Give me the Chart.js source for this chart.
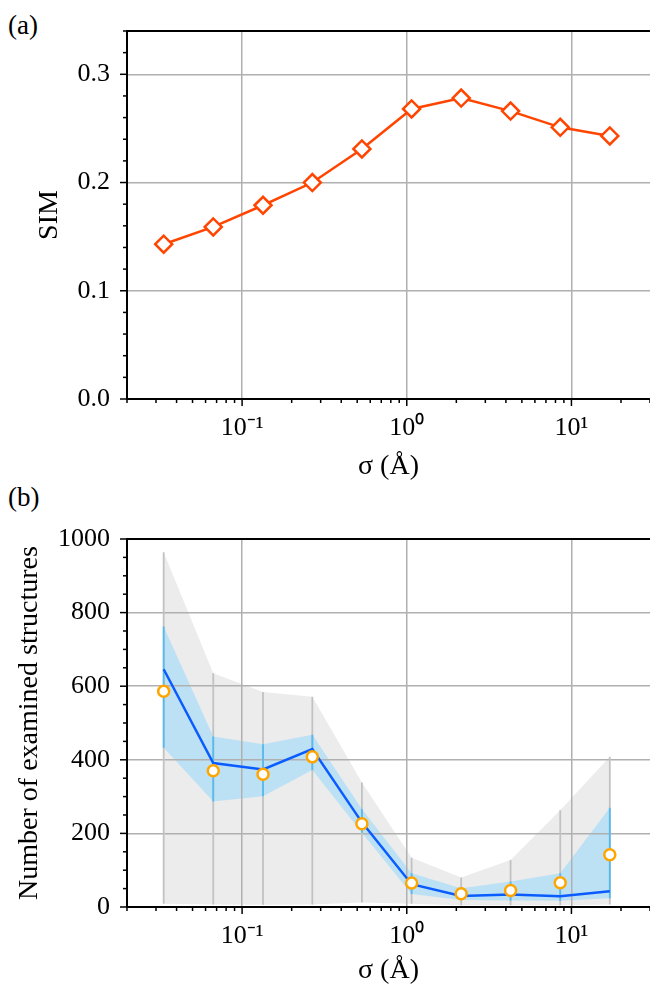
<!DOCTYPE html>
<html>
<head>
<meta charset="utf-8">
<script src="https://cdn.jsdelivr.net/npm/chart.js@4/dist/chart.umd.min.js"></script>
<style>
  body { margin: 0; background: #fff; width: 650px; height: 993px; overflow: hidden; position: relative; }
  .panel { position: absolute; left: 0; }
  .tag { position: absolute; left: 8px; font-family: 'Liberation Serif', serif; font-size: 27px; line-height: 1; color: #000; }
</style>
</head>
<body>
<div class="tag" style="top:12px">(a)</div>
<div class="tag" style="top:484px">(b)</div>
<div class="panel" style="top:0"><canvas id="simChart" width="650" height="495"></canvas></div>
<div class="panel" style="top:495px"><canvas id="structChart" width="650" height="498"></canvas></div>
<script>
// valores de sigma (Å), mismo eje en los dos paneles
const sigma = [0.0334, 0.0668, 0.134, 0.267, 0.534, 1.07, 2.14, 4.27, 8.55, 17.1];

// panel (a)
const sim = [0.143, 0.159, 0.179, 0.200, 0.231, 0.268, 0.278, 0.266, 0.251, 0.243];

// panel (b)
const mediaEstructuras = [586, 370, 361, 408, 226, 65, 36, 45, 66, 142];
const medianaEstructuras = [646, 391, 374, 429, 230, 62, 30, 34, 29, 43];
const cuartilSup = [762, 463, 442, 468, 266, 92, 51, 69, 92, 270];
const cuartilInf = [433, 287, 301, 372, 202, 35, 19, 18, 17, 24];
const maximoEstructuras = [964, 635, 584, 571, 338, 134, 80, 128, 263, 408];
const minimoEstructuras = [9, 7, 6, 7, 12, 9, 5, 5, 5, 7];

// ticks
const xMajor = [0.1, 1, 10];
const xMajorLabels = ['10⁻¹', '10⁰', '10¹'];
const xMinor = [0.02, 0.03, 0.04, 0.05, 0.06, 0.07, 0.08, 0.09,
                0.2, 0.3, 0.4, 0.5, 0.6, 0.7, 0.8, 0.9,
                2, 3, 4, 5, 6, 7, 8, 9, 20, 30];
const simMajor = [0, 0.1, 0.2, 0.3];
const simMajorLabels = ['0.0', '0.1', '0.2', '0.3'];
const structMajor = [0, 200, 400, 600, 800, 1000];
const structMajorLabels = ['0', '200', '400', '600', '800', '1000'];

const fuente = { family: "'Liberation Serif', serif", size: 26 };
const fuenteTitulo = { family: "'Liberation Serif', serif", size: 28 };
const gris = '#b0b0b0';
const nada = 'rgba(0,0,0,0)';

const esta = (arr, v) => arr.some(a => Math.abs(a - v) < 1e-9 * Math.max(1, Math.abs(a)));

// el padding de ticks en Chart.js empuja el area del grafico, asi que
// la separacion de las etiquetas se hace con tickLength invisible
function ejeX(altura, padTitulo) {
    return {
        type: 'logarithmic',
        min: 0.02,
        max: 30,
        afterBuildTicks: s => {
            s.ticks = [...xMinor, ...xMajor].sort((a, b) => a - b).map(v => ({ value: v }));
        },
        afterFit: s => { s.height = altura; },
        ticks: {
            autoSkip: false,
            maxRotation: 0,
            padding: 0,
            color: '#000',
            font: fuente,
            callback: v => {
                const i = xMajor.findIndex(m => Math.abs(m - v) < 1e-9);
                return i >= 0 ? xMajorLabels[i] : '';
            }
        },
        grid: {
            drawTicks: true,
            tickLength: 14,
            tickColor: nada,
            lineWidth: 1.5,
            color: c => (c.tick && esta(xMajor, c.tick.value)) ? gris : nada
        },
        border: { display: false },
        title: { display: true, text: 'σ (Å)', color: '#000', font: fuenteTitulo, padding: { top: 0, bottom: padTitulo } }
    };
}

function ejeY(min, max, paso, mayores, etiquetas, titulo, padTitulo) {
    return {
        min: min,
        max: max,
        afterBuildTicks: s => {
            const t = [];
            for (let v = min; v <= max + paso / 2; v += paso) t.push({ value: Math.round(v / paso) * paso });
            s.ticks = t;
        },
        afterFit: s => { s.width = 127; },
        ticks: {
            autoSkip: false,
            padding: 0,
            color: '#000',
            font: fuente,
            callback: v => {
                const i = mayores.findIndex(m => Math.abs(m - v) < paso / 10);
                return i >= 0 ? etiquetas[i] : '';
            }
        },
        grid: {
            drawTicks: true,
            tickLength: 17,
            tickColor: nada,
            lineWidth: 1.5,
            color: c => (c.tick && mayores.some(m => Math.abs(m - c.tick.value) < paso / 10)) ? gris : nada
        },
        border: { display: false },
        title: { display: true, text: titulo, color: '#000', font: fuenteTitulo, padding: { top: padTitulo, bottom: 0 } }
    };
}

// marco (sin borde derecho, queda fuera de la figura) y marcas de los ejes
const marco = {
    id: 'marco',
    afterDatasetsDraw(chart, args, opts) {
        const { ctx, chartArea: a } = chart;
        const x = chart.scales.x, y = chart.scales.y;
        ctx.save();
        ctx.strokeStyle = '#000';
        ctx.lineWidth = 1.5;
        x.ticks.forEach(t => {
            const px = x.getPixelForValue(t.value);
            const largo = esta(xMajor, t.value) ? 7 : 4;
            ctx.beginPath(); ctx.moveTo(px, a.bottom); ctx.lineTo(px, a.bottom + largo); ctx.stroke();
        });
        y.ticks.forEach(t => {
            const py = y.getPixelForValue(t.value);
            const largo = opts.mayores.some(m => Math.abs(m - t.value) < opts.paso / 10) ? 7 : 4;
            ctx.beginPath(); ctx.moveTo(a.left, py); ctx.lineTo(a.left - largo, py); ctx.stroke();
        });
        ctx.lineWidth = 2;
        ctx.beginPath();
        ctx.moveTo(chart.width, a.top);
        ctx.lineTo(a.left, a.top);
        ctx.lineTo(a.left, a.bottom);
        ctx.lineTo(chart.width, a.bottom);
        ctx.stroke();
        ctx.restore();
    }
};

const puntos = ys => sigma.map((s, i) => ({ x: s, y: ys[i] }));

// segmentos verticales entre dos series, separados por nulls
const verticales = (lo, hi) => {
    const d = [];
    sigma.forEach((s, i) => { d.push({ x: s, y: lo[i] }, { x: s, y: hi[i] }, { x: s, y: null }); });
    return d;
};

new Chart(document.getElementById('simChart'), {
    type: 'line',
    data: {
        datasets: [{
            label: 'SIM',
            data: puntos(sim),
            borderColor: '#ff4500',
            borderWidth: 2.5,
            pointStyle: 'rectRot',
            pointRadius: 8.5,
            pointBorderWidth: 2.5,
            pointBackgroundColor: '#fff',
            pointBorderColor: '#ff4500',
            tension: 0
        }]
    },
    options: {
        responsive: false,
        animation: false,
        devicePixelRatio: 1,
        layout: { autoPadding: false, padding: { top: 31, left: 0, right: 0, bottom: 0 } },
        plugins: { legend: { display: false }, tooltip: { enabled: false }, marco: { mayores: simMajor, paso: 0.02 } },
        scales: {
            x: ejeX(96, 12),
            y: ejeY(0, 0.34, 0.02, simMajor, simMajorLabels, 'SIM', 33)
        }
    },
    plugins: [marco]
});

new Chart(document.getElementById('structChart'), {
    type: 'line',
    data: {
        datasets: [
            { label: 'media', data: puntos(mediaEstructuras), showLine: false, pointRadius: 5.5,
              pointBorderWidth: 2.5, pointBackgroundColor: '#fff', pointBorderColor: '#ffa500' },
            { label: 'mediana', data: puntos(medianaEstructuras), borderColor: '#0a5cff', borderWidth: 2.5,
              pointRadius: 0, tension: 0 },
            { label: 'barras cuartiles', data: verticales(cuartilInf, cuartilSup), borderColor: '#55baf0',
              borderWidth: 1.8, pointRadius: 0, spanGaps: false },
            { label: 'cuartil sup', data: puntos(cuartilSup), borderWidth: 0, pointRadius: 0,
              backgroundColor: '#bde1f4', fill: '+1' },
            { label: 'cuartil inf', data: puntos(cuartilInf), borderWidth: 0, pointRadius: 0 },
            { label: 'barras rango', data: verticales(minimoEstructuras, maximoEstructuras), borderColor: '#c2c2c2',
              borderWidth: 1.8, pointRadius: 0, spanGaps: false },
            { label: 'maximo', data: puntos(maximoEstructuras), borderWidth: 0, pointRadius: 0,
              backgroundColor: '#ececec', fill: '+1' },
            { label: 'minimo', data: puntos(minimoEstructuras), borderWidth: 0, pointRadius: 0 }
        ]
    },
    options: {
        responsive: false,
        animation: false,
        devicePixelRatio: 1,
        layout: { autoPadding: false, padding: { top: 44, left: 0, right: 0, bottom: 0 } },
        plugins: {
            legend: { display: false },
            tooltip: { enabled: false },
            filler: { drawTime: 'beforeDraw' },
            marco: { mayores: structMajor, paso: 50 }
        },
        scales: {
            x: ejeX(86, 6),
            y: ejeY(0, 1000, 50, structMajor, structMajorLabels, 'Number of examined structures', 13)
        }
    },
    plugins: [marco]
});
</script>
</body>
</html>
